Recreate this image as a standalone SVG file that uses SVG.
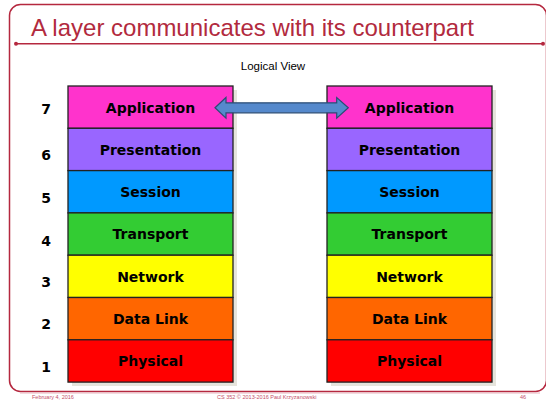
<svg xmlns="http://www.w3.org/2000/svg" width="546" height="400" viewBox="0 0 546 400">
  <defs>
    <style>
      .frame { fill: none; stroke: #b5283f; stroke-width: 1.5; }
      .title { font-family: "Liberation Sans", Arial, sans-serif; font-size: 24px; fill: #b22a3e; }
      .sub { font-family: "Liberation Sans", Arial, sans-serif; font-size: 11.5px; fill: #000; text-anchor: middle; }
      .foot { font-family: "Liberation Sans", Arial, sans-serif; font-size: 5.5px; fill: #c4506a; }
      .layer { stroke: #222; stroke-width: 1.3; }
      .lbl { font-family: "DejaVu Sans", Verdana, sans-serif; font-weight: bold; font-size: 14px; fill: #000; text-anchor: middle; }
      .num { font-family: "DejaVu Sans", Verdana, sans-serif; font-weight: bold; font-size: 14px; fill: #000; text-anchor: middle; }
      .shadow { fill: #e6e4dc; }
      .arrow { fill: #5589cc; stroke: #2b4c74; stroke-width: 1.2; stroke-linejoin: miter; }
    </style>
  </defs>

  <rect width="546" height="400" fill="#ffffff"/>

  <!-- slide frame -->
  <g id="frame">
    <rect x="9.5" y="4.5" width="537" height="387" rx="11" ry="11" class="frame"/>
    <line x1="16" y1="43.8" x2="543" y2="43.8" stroke="#b5283f" stroke-width="1.5"/>
    <circle cx="16" cy="43.8" r="2" fill="#b5283f"/>
    <circle cx="543" cy="43.8" r="2" fill="#b5283f"/>
    <line x1="20" y1="393" x2="540" y2="393" stroke="#e8b6c0" stroke-width="1"/>
  </g>

  <text x="31" y="35.5" class="title">A layer communicates with its counterpart</text>
  <text x="273" y="70" class="sub">Logical View</text>

  <!-- layer numbers -->
  <g id="numbers">
    <text x="46" y="114" class="num">7</text>
    <text x="46" y="160" class="num">6</text>
    <text x="46" y="203" class="num">5</text>
    <text x="46" y="246" class="num">4</text>
    <text x="46" y="287" class="num">3</text>
    <text x="46" y="329" class="num">2</text>
    <text x="46" y="372" class="num">1</text>
  </g>

  <!-- left stack -->
  <g id="left-stack">
    <rect x="72" y="90" width="165" height="296" class="shadow"/>
    <g id="left-application"><rect x="68" y="86" width="165" height="42.3" fill="#ff33cc" class="layer"/><text x="150.5" y="112.5" class="lbl">Application</text></g>
    <g id="left-presentation"><rect x="68" y="128.3" width="165" height="42.3" fill="#9966ff" class="layer"/><text x="150.5" y="154.8" class="lbl">Presentation</text></g>
    <g id="left-session"><rect x="68" y="170.6" width="165" height="42.3" fill="#0099ff" class="layer"/><text x="150.5" y="197.1" class="lbl">Session</text></g>
    <g id="left-transport"><rect x="68" y="212.9" width="165" height="42.3" fill="#33cc33" class="layer"/><text x="150.5" y="239.4" class="lbl">Transport</text></g>
    <g id="left-network"><rect x="68" y="255.2" width="165" height="42.3" fill="#ffff00" class="layer"/><text x="150.5" y="281.7" class="lbl">Network</text></g>
    <g id="left-datalink"><rect x="68" y="297.5" width="165" height="42.3" fill="#ff6600" class="layer"/><text x="150.5" y="324" class="lbl">Data Link</text></g>
    <g id="left-physical"><rect x="68" y="339.8" width="165" height="42.3" fill="#ff0000" class="layer"/><text x="150.5" y="366.3" class="lbl">Physical</text></g>
  </g>

  <!-- right stack -->
  <g id="right-stack">
    <rect x="331" y="90" width="165" height="296" class="shadow"/>
    <g id="right-application"><rect x="327" y="86" width="165" height="42.3" fill="#ff33cc" class="layer"/><text x="409.5" y="112.5" class="lbl">Application</text></g>
    <g id="right-presentation"><rect x="327" y="128.3" width="165" height="42.3" fill="#9966ff" class="layer"/><text x="409.5" y="154.8" class="lbl">Presentation</text></g>
    <g id="right-session"><rect x="327" y="170.6" width="165" height="42.3" fill="#0099ff" class="layer"/><text x="409.5" y="197.1" class="lbl">Session</text></g>
    <g id="right-transport"><rect x="327" y="212.9" width="165" height="42.3" fill="#33cc33" class="layer"/><text x="409.5" y="239.4" class="lbl">Transport</text></g>
    <g id="right-network"><rect x="327" y="255.2" width="165" height="42.3" fill="#ffff00" class="layer"/><text x="409.5" y="281.7" class="lbl">Network</text></g>
    <g id="right-datalink"><rect x="327" y="297.5" width="165" height="42.3" fill="#ff6600" class="layer"/><text x="409.5" y="324" class="lbl">Data Link</text></g>
    <g id="right-physical"><rect x="327" y="339.8" width="165" height="42.3" fill="#ff0000" class="layer"/><text x="409.5" y="366.3" class="lbl">Physical</text></g>
  </g>

  <!-- connector -->
  <g id="connectors">
    <path class="arrow" d="M215,107.8 L226,97.5 L226,102.8 L336.7,102.8 L336.7,97.5 L348.3,107.8 L336.7,118.2 L336.7,112.8 L226,112.8 L226,118.2 Z"/>
  </g>

  <!-- footer -->
  <g id="footer">
    <text x="32" y="398.5" class="foot">February 4, 2016</text>
    <text x="217" y="398.5" class="foot">CS 352 © 2013-2016 Paul Krzyzanowski</text>
    <text x="520" y="398.5" class="foot">46</text>
  </g>
</svg>
